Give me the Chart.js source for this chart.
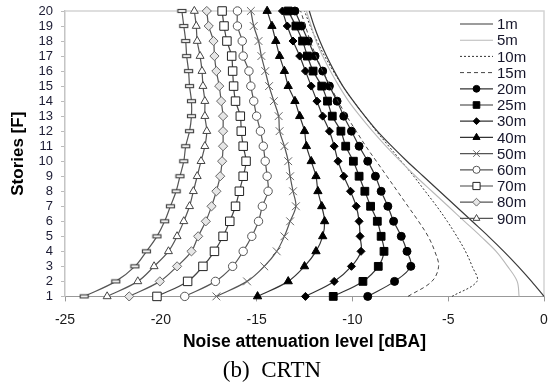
<!DOCTYPE html>
<html>
<head>
<meta charset="utf-8">
<script src="https://cdn.jsdelivr.net/npm/chart.js@4.4.1/dist/chart.umd.min.js"></script>
<style>
  html, body { margin: 0; padding: 0; background: #fff; }
  #wrap { width: 560px; height: 388px; }
</style>
</head>
<body>
<div id="wrap"><canvas id="noiseChart" width="560" height="388"></canvas></div>
<script>
'use strict';

// stories (floor numbers)
const stories = [1, 2, 3, 4, 5, 6, 7, 8, 9, 10, 11, 12, 13, 14, 15, 16, 17, 18, 19, 20];
const xTicks = [-25, -20, -15, -10, -5, 0];

// noise attenuation [dBA] per story, by distance from road
const d1m   = [0, -0.65, -1.35, -2.1, -2.9, -3.75, -4.6, -5.45, -6.3, -7.15, -7.95, -8.7, -9.35, -9.95, -10.5, -10.95, -11.35, -11.7, -12.0, -12.25];
const d5m   = [-1.3, -1.4, -1.9, -2.5, -3.3, -4.15, -5.0, -5.85, -6.7, -7.5, -8.25, -8.95, -9.6, -10.2, -10.7, -11.15, -11.55, -11.9, -12.15, -12.4];
const d10m  = [-4.8, -3.5, -3.75, -4.1, -4.55, -5.05, -5.6, -6.2, -6.8, -7.45, -8.1, -8.75, -9.35, -9.95, -10.5, -11.0, -11.45, -11.85, -12.2, -12.5];
const d15m  = [-7.1, -5.85, -5.5, -5.7, -6.05, -6.55, -7.1, -7.65, -8.2, -8.75, -9.3, -9.8, -10.3, -10.75, -11.15, -11.55, -11.9, -12.2, -12.45, -12.7];
const d20m  = [-9.2, -7.8, -6.95, -7.15, -7.45, -7.85, -8.15, -8.5, -8.8, -9.2, -9.65, -10.05, -10.45, -10.8, -11.2, -11.55, -11.95, -12.3, -12.65, -13.0];
const d25m  = [-11.0, -9.45, -8.65, -8.35, -8.5, -8.7, -9.05, -9.35, -9.65, -9.95, -10.35, -10.6, -11.05, -11.3, -11.6, -12.05, -12.35, -12.6, -12.95, -13.35];
const d30m  = [-12.45, -10.95, -10.05, -9.55, -9.6, -9.65, -9.8, -10.1, -10.45, -10.75, -10.95, -11.2, -11.55, -11.85, -12.15, -12.45, -12.75, -13.1, -13.4, -13.65];
const d40m  = [-14.95, -13.35, -12.5, -11.9, -11.55, -11.45, -11.6, -11.8, -11.9, -12.15, -12.4, -12.5, -12.75, -13.0, -13.35, -13.55, -13.8, -14.0, -14.2, -14.45];
const d50m  = [-17.1, -15.5, -14.6, -13.95, -13.55, -13.25, -12.95, -13.1, -13.25, -13.35, -13.55, -13.8, -13.85, -14.1, -14.35, -14.55, -14.75, -14.9, -15.15, -15.3];
const d60m  = [-18.75, -17.15, -16.25, -15.7, -15.25, -14.9, -14.7, -14.4, -14.45, -14.55, -14.65, -14.8, -15.0, -15.15, -15.3, -15.4, -15.7, -15.75, -16.0, -16.0];
const d70m  = [-20.2, -18.6, -17.8, -17.2, -16.75, -16.4, -16.1, -15.9, -15.7, -15.55, -15.7, -15.8, -15.85, -16.1, -16.2, -16.25, -16.3, -16.55, -16.7, -16.8];
const d80m  = [-21.65, -20.05, -19.15, -18.4, -18.05, -17.65, -17.35, -17.1, -16.9, -16.8, -16.75, -16.75, -16.75, -16.85, -16.95, -17.1, -17.2, -17.25, -17.5, -17.6];
const d90m  = [-22.8, -21.2, -20.35, -19.6, -19.15, -18.8, -18.5, -18.3, -18.1, -17.9, -17.7, -17.6, -17.7, -17.7, -17.8, -17.85, -17.95, -18.1, -18.15, -18.25];
const d100m = [-24.0, -22.35, -21.35, -20.75, -20.2, -19.8, -19.5, -19.2, -19.0, -18.8, -18.7, -18.5, -18.4, -18.4, -18.5, -18.55, -18.65, -18.7, -18.8, -18.9];

const FONT = '"Liberation Sans", Arial, sans-serif';

// small flat bar marker used for the 100m series
function barMarker() {
	const c = document.createElement('canvas');
	c.width = 11; c.height = 6;
	const g = c.getContext('2d');
	g.fillStyle = '#fff';
	g.fillRect(1, 1, 9, 4);
	g.strokeStyle = '#444';
	g.lineWidth = 1.2;
	g.strokeRect(1.5, 1.5, 8, 3);
	return c;
}

function pts(values) {
	return stories.map((s, i) => ({ x: values[i], y: s }));
}

function series(label, values, style) {
	return Object.assign({
		label,
		data: pts(values),
		borderColor: '#333',
		borderWidth: 1.2,
		borderDash: [],
		pointRadius: 0,
		pointStyle: 'circle',
		pointBackgroundColor: '#000',
		pointBorderColor: '#000',
		pointBorderWidth: 1,
		tension: 0.35,
		fill: false,
		clip: false,
	}, style);
}

const datasets = [
	series('1m', d1m, { borderColor: '#3a3a3a' }),
	series('5m', d5m, { borderColor: '#b8b8b8', borderWidth: 1.1 }),
	series('10m', d10m, { borderColor: '#333', borderWidth: 1, borderDash: [2, 2] }),
	series('15m', d15m, { borderColor: '#444', borderWidth: 1, borderDash: [4, 3] }),
	series('20m', d20m, { pointRadius: 4, pointStyle: 'circle' }),
	series('25m', d25m, { pointRadius: 5.5, pointStyle: 'rect' }),
	series('30m', d30m, { pointRadius: 4, pointStyle: 'rectRot' }),
	series('40m', d40m, { pointRadius: 4.8, pointStyle: 'triangle' }),
	series('50m', d50m, { borderColor: '#555', pointRadius: 5.5, pointStyle: 'crossRot', pointBorderColor: '#666' }),
	series('60m', d60m, { borderColor: '#555', pointRadius: 4.2, pointStyle: 'circle', pointBackgroundColor: '#fff', pointBorderColor: '#555' }),
	series('70m', d70m, { borderColor: '#444', pointRadius: 6, pointStyle: 'rect', pointBackgroundColor: '#fff', pointBorderColor: '#222' }),
	series('80m', d80m, { borderColor: '#555', pointRadius: 4.6, pointStyle: 'rectRot', pointBackgroundColor: '#e6e6e6', pointBorderColor: '#666' }),
	series('90m', d90m, { borderColor: '#555', pointRadius: 4.6, pointStyle: 'triangle', pointBackgroundColor: '#fff', pointBorderColor: '#444' }),
	series('100m', d100m, { borderColor: '#555', pointRadius: 5, pointStyle: barMarker(), inLegend: false }),
];

// legend drawn inside the plot, top right
const sideLegend = {
	id: 'sideLegend',
	afterDraw(chart) {
		const ctx = chart.ctx;
		const area = chart.chartArea;
		const x0 = area.right - 84, x1 = area.right - 51, tx = area.right - 47;
		ctx.save();
		chart.data.datasets.forEach((ds, i) => {
			if (ds.inLegend === false) return;
			const y = area.top + 13 + i * 16.2;
			ctx.strokeStyle = ds.borderColor;
			ctx.lineWidth = ds.borderWidth;
			ctx.setLineDash(ds.borderDash);
			ctx.beginPath();
			ctx.moveTo(x0, y);
			ctx.lineTo(x1, y);
			ctx.stroke();
			ctx.setLineDash([]);
			if (ds.pointRadius > 0 && Chart.helpers && Chart.helpers.drawPoint) {
				ctx.fillStyle = ds.pointBackgroundColor;
				ctx.strokeStyle = ds.pointBorderColor;
				ctx.lineWidth = 1;
				Chart.helpers.drawPoint(ctx, {
					pointStyle: ds.pointStyle,
					radius: ds.pointRadius * 0.85,
					borderWidth: 1,
					rotation: 0
				}, (x0 + x1) / 2, y);
			}
			ctx.fillStyle = '#15152a';
			ctx.font = '15px ' + FONT;
			ctx.textAlign = 'left';
			ctx.textBaseline = 'middle';
			ctx.fillText(ds.label, tx, y + 1);
		});
		ctx.restore();
	}
};

// light frame on top and right of the plot
const frame = {
	id: 'frame',
	beforeDatasetsDraw(chart) {
		const { ctx, chartArea: a } = chart;
		ctx.save();
		ctx.strokeStyle = '#d4d4d4';
		ctx.lineWidth = 1.5;
		ctx.beginPath();
		ctx.moveTo(a.left, a.top);
		ctx.lineTo(a.right, a.top);
		ctx.lineTo(a.right, a.bottom);
		ctx.stroke();
		ctx.restore();
	}
};

const ctx = document.getElementById('noiseChart').getContext('2d');

new Chart(ctx, {
	type: 'line',
	data: { datasets },
	options: {
		responsive: false,
		animation: false,
		devicePixelRatio: 1,
		layout: { padding: { top: 11, right: 16, left: 0, bottom: 0 } },
		plugins: {
			legend: { display: false },
			tooltip: { enabled: false },
			title: {
				display: true,
				position: 'bottom',
				text: '(b)  CRTN',
				color: '#000',
				font: { family: '"Liberation Serif", "Times New Roman", serif', size: 23, weight: 'normal' },
				padding: { top: 4, bottom: 3 }
			}
		},
		scales: {
			x: {
				type: 'linear',
				min: -25,
				max: 0,
				afterBuildTicks: (scale) => { scale.ticks = xTicks.map(v => ({ value: v })); },
				afterFit: (scale) => { scale.height = 57; },
				grid: { display: true, drawOnChartArea: false, drawTicks: true, tickLength: 5, color: '#999' },
				border: { display: true, color: '#999', width: 1 },
				ticks: { color: '#1a1a1a', padding: 10, font: { family: FONT, size: 14 }, maxRotation: 0, autoSkip: false },
				title: {
					display: true,
					text: 'Noise attenuation level [dBA]',
					color: '#000',
					font: { family: FONT, size: 17.5, weight: 'bold' },
					padding: { top: 0, bottom: 1 }
				}
			},
			y: {
				type: 'linear',
				min: 1,
				max: 20,
				afterBuildTicks: (scale) => { scale.ticks = stories.map(v => ({ value: v })); },
				afterFit: (scale) => {
					scale.width = 65;
					scale.paddingTop = 0;
					scale.paddingBottom = 0;
				},
				grid: { display: true, drawOnChartArea: false, drawTicks: true, tickLength: 4, color: '#bbb' },
				border: { display: true, color: '#c4c4c4', width: 1.5 },
				ticks: { color: '#1c1c34', padding: 8, font: { family: FONT, size: 13 }, autoSkip: false },
				title: {
					display: true,
					text: 'Stories [F]',
					color: '#000',
					font: { family: FONT, size: 17, weight: 'bold' },
					padding: { top: 8, bottom: 0 }
				}
			}
		}
	},
	plugins: [frame, sideLegend]
});
</script>
</body>
</html>
